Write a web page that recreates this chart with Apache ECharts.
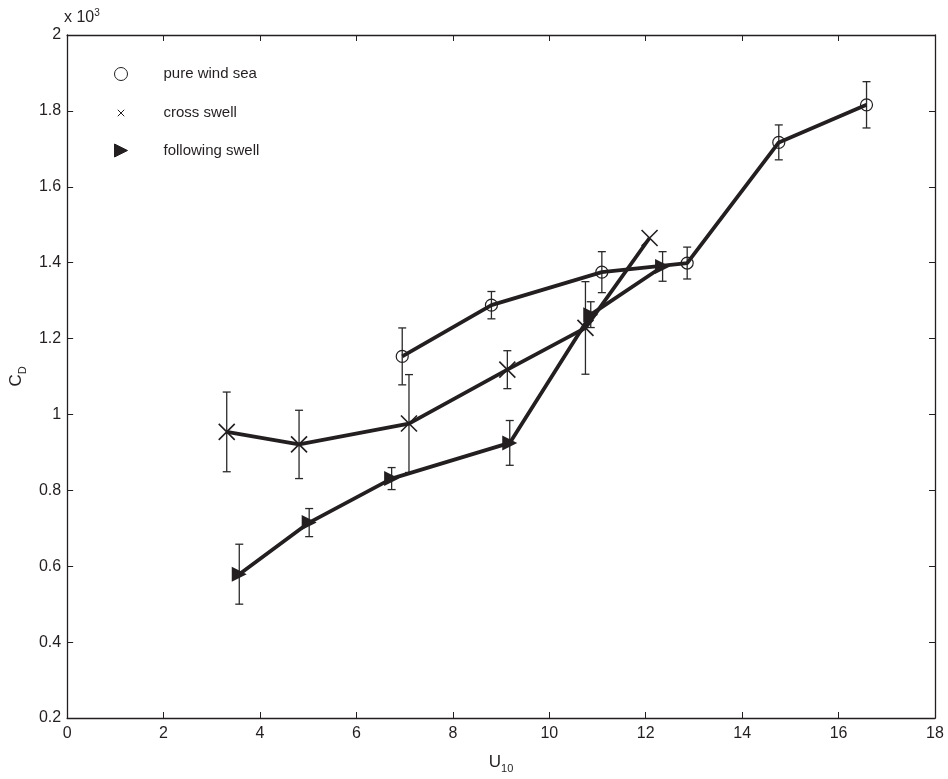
<!DOCTYPE html>
<html>
<head>
<meta charset="utf-8">
<script src="https://cdn.jsdelivr.net/npm/echarts@6/dist/echarts.min.js"></script>
<style>
  html, body { margin: 0; padding: 0; background: #fff; }
  #chart { width: 948px; height: 779px; }
</style>
</head>
<body>
<div id="chart"></div>
<script>
// pure wind sea
const windU = [6.95, 8.80, 11.09, 12.86, 14.76, 16.58];
const windCd = [1.153, 1.288, 1.375, 1.399, 1.717, 1.816];
const windErr = [0.075, 0.036, 0.054, 0.042, 0.046, 0.061];
// cross swell
const crossU = [3.31, 4.81, 7.09, 9.13, 10.75, 12.08];
const crossCd = [0.954, 0.921, 0.976, 1.118, 1.228, 1.465];
const crossErr = [0.105, 0.09, 0.129, 0.05, 0.122, null];
// following swell
const followU = [3.57, 5.02, 6.73, 9.18, 10.86, 12.35];
const followCd = [0.579, 0.715, 0.831, 0.925, 1.263, 1.390];
const followErr = [0.079, 0.037, 0.029, 0.059, 0.034, 0.039];

const xTicks = [0, 2, 4, 6, 8, 10, 12, 14, 16, 18];
const yTicks = [0.2, 0.4, 0.6, 0.8, 1, 1.2, 1.4, 1.6, 1.8, 2];

const names = ["pure wind sea", "cross swell", "following swell"];
const ink = "#231f20";
const font = "Liberation Sans";

const pts = (xs, ys) => xs.map((x, i) => [x, ys[i]]);
const errs = (xs, ys, es) =>
  xs.map((x, i) => [x, ys[i], es[i]]).filter((d) => d[2] != null);

const errorBar = (data) => ({
  type: "custom",
  silent: true,
  z: 2,
  data: data,
  renderItem: (params, api) => {
    const x = api.value(0), y = api.value(1), e = api.value(2);
    const top = api.coord([x, y + e]);
    const bot = api.coord([x, y - e]);
    const w = 4;
    const st = { stroke: "#2a2a2a", lineWidth: 1.3 };
    return {
      type: "group",
      children: [
        { type: "line", shape: { x1: top[0], y1: top[1], x2: bot[0], y2: bot[1] }, style: st },
        { type: "line", shape: { x1: top[0] - w, y1: top[1], x2: top[0] + w, y2: top[1] }, style: st },
        { type: "line", shape: { x1: bot[0] - w, y1: bot[1], x2: bot[0] + w, y2: bot[1] }, style: st },
      ],
    };
  },
});

const line = (data) => ({
  type: "line",
  data: data,
  symbol: "none",
  silent: true,
  z: 3,
  lineStyle: { color: ink, width: 3.8 },
});

const crossPath = "path://M0,0L10,10M10,0L0,10";
const crossIcon = "path://M0,0M14,14M3.5,3.5L10.5,10.5M10.5,3.5L3.5,10.5";
const triPath = "path://M0,0L12,6L0,12Z";

const boxAxis = {
  axisLine: { show: true, onZero: false, lineStyle: { color: ink, width: 1.3 } },
  axisTick: { show: true, inside: true, length: 6, lineStyle: { color: ink, width: 1 } },
  splitLine: { show: false },
};

const option = {
  backgroundColor: "#fff",
  animation: false,
  textStyle: { fontFamily: font },
  grid: { left: 65, right: 13, top: 35, bottom: 60 },
  graphic: [
    {
      type: "text",
      left: 64,
      top: 8,
      style: {
        text: "x 10{sup|3}",
        fontFamily: font,
        fontSize: 16,
        fill: ink,
        rich: { sup: { fontSize: 10, padding: [0, 0, 10, 0], fontFamily: font, fill: ink } },
      },
    },
  ],
  legend: {
    orient: "vertical",
    left: 107,
    top: 60,
    itemGap: 21,
    itemWidth: 13,
    itemHeight: 13,
    itemStyle: { borderWidth: 1 },
    textStyle: { fontFamily: font, fontSize: 15, color: ink, padding: [0, 0, 0, 31] },
    data: [
      { name: names[0], icon: "circle" },
      { name: names[1], icon: crossIcon },
      { name: names[2], icon: triPath },
    ],
  },
  xAxis: [
    {
      type: "value",
      min: xTicks[0],
      max: xTicks[xTicks.length - 1],
      interval: 2,
      position: "bottom",
      name: "U{sub|10}",
      nameLocation: "middle",
      nameGap: 33,
      nameTextStyle: {
        fontFamily: font,
        fontSize: 17,
        color: ink,
        rich: { sub: { fontSize: 11, padding: [12, 0, 0, 0], fontFamily: font, color: ink } },
      },
      axisLabel: { fontFamily: font, fontSize: 16, color: ink, margin: 8 },
      ...boxAxis,
    },
    {
      type: "value",
      min: xTicks[0],
      max: xTicks[xTicks.length - 1],
      interval: 2,
      position: "top",
      axisLabel: { show: false },
      ...boxAxis,
    },
  ],
  yAxis: [
    {
      type: "value",
      min: yTicks[0],
      max: yTicks[yTicks.length - 1],
      interval: 0.2,
      position: "left",
      name: "C{sub|D}",
      nameLocation: "middle",
      nameRotate: 90,
      nameGap: 38,
      nameTextStyle: {
        fontFamily: font,
        fontSize: 17,
        color: ink,
        rich: { sub: { fontSize: 11, padding: [12, 0, 0, 0], fontFamily: font, color: ink } },
      },
      axisLabel: {
        fontFamily: font,
        fontSize: 16,
        color: ink,
        margin: 6,
        formatter: (v) => String(+v.toFixed(1)),
      },
      ...boxAxis,
    },
    {
      type: "value",
      min: yTicks[0],
      max: yTicks[yTicks.length - 1],
      interval: 0.2,
      position: "right",
      axisLabel: { show: false },
      ...boxAxis,
    },
  ],
  series: [
    errorBar(errs(windU, windCd, windErr)),
    errorBar(errs(crossU, crossCd, crossErr)),
    errorBar(errs(followU, followCd, followErr)),
    line(pts(windU, windCd)),
    line(pts(crossU, crossCd)),
    line(pts(followU, followCd)),
    {
      name: names[0],
      type: "scatter",
      z: 4,
      data: pts(windU, windCd),
      symbol: "circle",
      symbolSize: 12,
      itemStyle: { color: "none", borderColor: ink, borderWidth: 1.2, opacity: 1 },
    },
    {
      name: names[1],
      type: "scatter",
      z: 4,
      data: pts(crossU, crossCd),
      symbol: crossPath,
      symbolSize: 16,
      itemStyle: { color: "none", borderColor: ink, borderWidth: 1.6, opacity: 1 },
    },
    {
      name: names[2],
      type: "scatter",
      z: 4,
      data: pts(followU, followCd),
      symbol: triPath,
      symbolSize: 15,
      itemStyle: { color: ink, borderColor: ink, borderWidth: 0, opacity: 1 },
    },
  ],
};

const chart = echarts.init(document.getElementById("chart"));
chart.setOption(option);
</script>
</body>
</html>
